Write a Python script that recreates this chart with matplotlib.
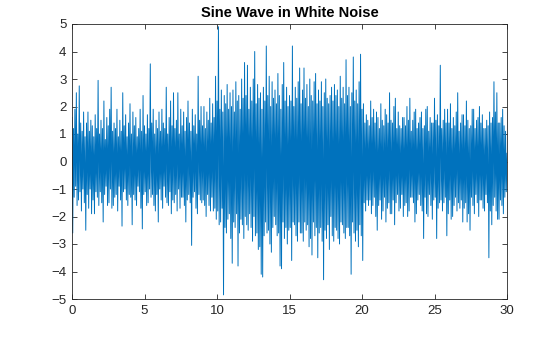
import numpy as np
import matplotlib
matplotlib.use("Agg")
import matplotlib.pyplot as plt

# signal peaks in each 0.1 s window, one row per second
win = 0.1
sig_hi = [
    1.6, 1.2, 1.9, 2.5, 1.0, 2.75, 1.4, 1.1, 1.8, 0.9,
    1.4, 1.8, 1.1, 1.5, 1.3, 0.9, 1.7, 1.2, 2.95, 1.0,
    1.5, 1.2, 2.2, 0.8, 1.6, 1.3, 1.9, 2.7, 1.1, 1.4,
    1.2, 1.9, 0.9, 1.5, 1.1, 2.5, 1.3, 1.7, 0.9, 1.4,
    2.1, 1.0, 1.8, 1.3, 1.6, 0.9, 1.2, 1.9, 1.1, 2.4,
    1.3, 1.0, 1.7, 1.2, 3.55, 1.4, 1.9, 1.0, 1.5, 1.2,
    1.8, 1.1, 1.9, 1.4, 1.2, 2.7, 1.0, 1.6, 2.2, 1.3,
    2.5, 1.2, 1.5, 2.5, 1.0, 1.9, 1.3, 1.8, 1.1, 1.6,
    2.2, 1.4, 1.1, 1.9, 1.3, 1.7, 1.0, 3.1, 1.5, 2.0,
    1.3, 2.0, 1.2, 1.8, 1.5, 2.3, 1.4, 2.1, 1.6, 3.1,
    2.2, 4.9, 1.9, 2.6, 1.8, 2.4, 2.1, 2.8, 1.9, 2.5,
    2.0, 2.6, 1.8, 2.9, 2.2, 2.4, 1.9, 3.0, 2.3, 3.6,
    2.4, 3.5, 1.9, 2.7, 2.2, 3.0, 4.0, 2.1, 2.8, 2.3,
    2.5, 1.9, 2.7, 2.2, 4.2, 2.4, 3.1, 2.0, 2.9, 2.3,
    2.6, 2.1, 3.2, 2.4, 1.9, 2.8, 3.6, 2.2, 2.7, 2.0,
    2.4, 2.2, 4.2, 2.0, 2.7, 2.3, 2.9, 3.4, 2.1, 2.6,
    3.4, 2.3, 2.8, 2.0, 3.0, 2.4, 2.2, 2.9, 3.2, 2.1,
    2.6, 2.2, 2.9, 2.0, 2.5, 3.0, 2.3, 2.1, 2.4, 2.7,
    2.2, 2.8, 2.4, 2.6, 2.0, 3.1, 2.3, 2.7, 2.1, 3.7,
    2.4, 2.7, 2.0, 2.5, 3.8, 2.2, 2.6, 2.1, 2.9, 3.9,
    1.9, 2.1, 1.4, 1.7, 1.5, 1.3, 2.2, 1.6, 1.9, 1.4,
    1.8, 1.6, 1.2, 2.1, 1.5, 1.3, 1.9, 1.7, 1.4, 2.5,
    1.5, 1.4, 2.0, 2.3, 1.2, 1.8, 1.3, 1.2, 1.6, 1.6,
    1.3, 2.0, 1.5, 2.3, 1.1, 1.5, 1.8, 1.9, 1.2, 1.4,
    1.6, 1.8, 1.2, 1.3, 1.9, 2.0, 1.1, 1.6, 1.4, 1.4,
    2.3, 1.5, 1.7, 1.3, 3.5, 1.2, 1.5, 1.9, 1.4, 1.9,
    1.4, 2.1, 1.2, 1.6, 1.3, 1.8, 2.5, 1.1, 1.4, 1.7,
    1.7, 1.3, 2.2, 1.5, 1.2, 1.3, 1.9, 1.9, 1.2, 1.5,
    1.6, 2.0, 1.4, 1.7, 1.2, 1.2, 1.5, 1.3, 1.8, 1.4,
    1.6, 2.9, 1.8, 2.5, 1.4, 1.4, 1.6, 1.9, 1.3, 1.1,
]
sig_lo = [
    -2.6, -1.3, -0.9, -1.6, -1.4, -1.1, -1.8, -1.0, -1.5, -2.5,
    -1.2, -1.7, -1.0, -1.9, -1.4, -1.9, -1.1, -1.3, -1.6, -1.1,
    -1.5, -2.2, -1.2, -0.9, -1.6, -1.5, -1.0, -1.7, -1.6, -1.3,
    -1.2, -1.8, -0.9, -1.4, -2.35, -1.1, -1.0, -1.4, -1.6, -1.2,
    -1.3, -2.3, -1.2, -1.4, -1.6, -0.9, -1.1, -1.7, -2.45, -1.2,
    -1.1, -1.6, -1.5, -1.0, -1.3, -1.2, -1.6, -1.8, -1.2, -2.2,
    -1.0, -1.4, -1.7, -0.9, -1.3, -1.5, -1.6, -1.1, -1.9, -1.4,
    -1.5, -1.2, -1.8, -1.0, -1.7, -1.3, -1.3, -1.6, -2.2, -1.4,
    -1.2, -1.5, -3.05, -1.3, -1.1, -1.7, -1.9, -1.2, -1.4, -1.5,
    -1.4, -1.6, -2.0, -1.2, -1.6, -1.8, -1.3, -1.8, -1.7, -2.1,
    -1.8, -2.3, -2.2, -1.7, -4.85, -2.4, -2.6, -2.1, -1.9, -2.8,
    -3.7, -2.2, -2.4, -1.9, -3.8, -2.6, -2.1, -2.3, -2.8, -2.0,
    -2.3, -2.5, -1.9, -2.4, -2.9, -2.0, -2.7, -2.6, -3.2, -3.1,
    -4.1, -4.2, -2.7, -2.2, -2.6, -2.5, -3.0, -3.3, -2.4, -2.0,
    -2.3, -2.7, -2.6, -3.8, -3.9, -2.2, -2.8, -2.4, -3.0, -2.5,
    -2.4, -3.6, -2.2, -2.3, -2.7, -2.9, -2.2, -2.6, -2.6, -2.9,
    -2.2, -2.5, -2.3, -3.1, -2.8, -3.4, -2.2, -2.7, -2.4, -3.5,
    -2.6, -2.4, -2.9, -4.3, -2.5, -2.8, -2.3, -3.2, -2.0, -2.7,
    -2.9, -2.4, -2.5, -2.8, -3.0, -2.2, -2.3, -2.6, -2.8, -2.4,
    -2.4, -2.7, -4.1, -2.2, -2.6, -2.9, -2.5, -3.1, -2.3, -2.7,
    -3.6, -1.5, -1.8, -1.4, -1.6, -1.4, -1.9, -1.6, -1.3, -2.0,
    -2.5, -1.6, -1.4, -2.1, -1.8, -1.3, -2.2, -1.7, -1.5, -1.9,
    -1.9, -1.4, -2.3, -1.5, -1.2, -1.8, -1.7, -1.2, -2.0, -1.6,
    -1.5, -2.0, -1.8, -1.3, -1.3, -1.5, -2.2, -1.9, -1.4, -1.2,
    -1.6, -1.8, -2.8, -1.3, -1.9, -2.0, -1.2, -1.6, -2.1, -1.4,
    -1.3, -2.8, -1.7, -1.5, -1.4, -1.8, -1.5, -1.3, -2.7, -1.9,
    -1.4, -2.1, -2.0, -1.6, -1.3, -1.8, -1.5, -1.7, -1.4, -2.2,
    -1.7, -1.5, -2.2, -1.9, -2.5, -1.3, -1.6, -1.9, -1.2, -1.5,
    -2.0, -1.4, -1.4, -1.7, -1.8, -1.2, -1.5, -3.5, -1.8, -2.3,
    -1.6, -1.3, -1.8, -2.1, -2.1, -1.4, -1.6, -1.9, -1.3, -1.1,
]

# hi then lo inside every window
n = len(sig_hi)
t_win = np.arange(n) * win
t = np.column_stack([t_win, t_win + win / 2]).ravel()
y = np.column_stack([sig_hi, sig_lo]).ravel()
t = np.append(t, 30.0)
y = np.append(y, 0.3)

plt.rcParams['font.family'] = ['Liberation Sans', 'DejaVu Sans']

fig = plt.figure(figsize=(5.6, 3.37), dpi=100)
ax = fig.add_axes([72/560, 1 - 299/337, 435/560, 275/337])
ax.plot(t, y, color='#0072BD', linewidth=0.7)

ax.set_xlim(0, 30)
ax.set_ylim(-5, 5)
ax.set_xticks(np.arange(0, 31, 5))
ax.set_yticks(np.arange(-5, 6, 1))
ax.tick_params(direction='in', top=True, right=True, length=3.5, width=0.6,
               labelsize=9.5, labelcolor='#262626', color='#262626', pad=4)
for s in ax.spines.values():
    s.set_linewidth(0.6)
    s.set_color('#262626')
ax.set_title('Sine Wave in White Noise', fontsize=10.5, fontweight='bold', pad=5)

fig.savefig('out.png', dpi=100)
